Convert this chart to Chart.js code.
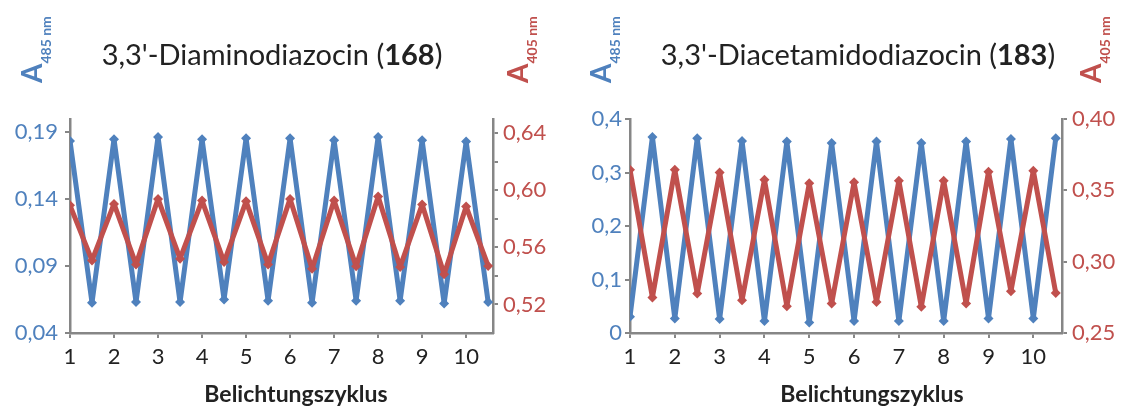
<!DOCTYPE html>
<html>
<head>
<meta charset="utf-8">
<script src="https://cdn.jsdelivr.net/npm/chart.js@4.4.1/dist/chart.umd.min.js"></script>
<style>
  body { margin: 0; background: #fff; }
  #wrap { position: relative; width: 1123px; height: 408px; overflow: hidden; font-family: Lato, sans-serif; }
  canvas { position: absolute; top: 0; }
  .title { position: absolute; top: 39px; width: 500px; text-align: center; font-size: 29px; line-height: 1; color: #222; white-space: nowrap; }
  .alab { position: absolute; top: 83px; font-size: 28px; font-weight: bold; line-height: 1; white-space: nowrap; transform: rotate(-90deg); transform-origin: 0 0; }
  .alab sub { font-size: 14px; vertical-align: baseline; position: relative; top: 9px; }
  .xlab { position: absolute; top: 382px; width: 300px; text-align: center; font-size: 23px; font-weight: bold; line-height: 1; color: #222; white-space: nowrap; }
</style>
</head>
<body>
<div id="wrap">
  <canvas id="chart168" width="561" height="408" style="left:0"></canvas>
  <canvas id="chart183" width="562" height="408" style="left:561px"></canvas>

  <div class="title" style="left:22px">3,3'-Diaminodiazocin (<b>168</b>)</div>
  <div class="title" style="left:608px">3,3'-Diacetamidodiazocin (<b>183</b>)</div>

  <div class="alab" style="left:17px;color:#4F81BD">A<sub>485 nm</sub></div>
  <div class="alab" style="left:503px;color:#C0504D">A<sub>405 nm</sub></div>
  <div class="alab" style="left:586px;color:#4F81BD">A<sub>485 nm</sub></div>
  <div class="alab" style="left:1076px;color:#C0504D">A<sub>405 nm</sub></div>

  <div class="xlab" style="left:146px">Belichtungszyklus</div>
  <div class="xlab" style="left:722px">Belichtungszyklus</div>
</div>
<script>
const cycles = [1, 1.5, 2, 2.5, 3, 3.5, 4, 4.5, 5, 5.5, 6, 6.5, 7, 7.5, 8, 8.5, 9, 9.5, 10, 10.5];
const cycleTicks = [1, 2, 3, 4, 5, 6, 7, 8, 9, 10];

// 168: 3,3'-Diaminodiazocin
const a485_168 = [0.1836, 0.0626, 0.1849, 0.0631, 0.1866, 0.0631, 0.1849, 0.0651, 0.1856, 0.0641,
                  0.1856, 0.0626, 0.1841, 0.0641, 0.1866, 0.0641, 0.1841, 0.0621, 0.1831, 0.0631];
const a405_168 = [0.5895, 0.5509, 0.5905, 0.5481, 0.5940, 0.5521, 0.5928, 0.5497, 0.5923, 0.5481,
                  0.5940, 0.5451, 0.5928, 0.5467, 0.5956, 0.5463, 0.5900, 0.5412, 0.5886, 0.5470];
const leftTicks168 = [0.04, 0.09, 0.14, 0.19];
const leftLabels168 = ['0,04', '0,09', '0,14', '0,19'];
const rightTicks168 = [0.52, 0.54, 0.56, 0.58, 0.60, 0.62, 0.64];
const rightLabels168 = ['0,52', '', '0,56', '', '0,60', '', '0,64'];

// 183: 3,3'-Diacetamidodiazocin
const a485_183 = [0.0304, 0.3665, 0.0273, 0.3640, 0.0260, 0.3590, 0.0223, 0.3580, 0.0198, 0.3550,
                  0.0223, 0.3580, 0.0223, 0.3550, 0.0223, 0.3580, 0.0273, 0.3628, 0.0273, 0.3640];
const a405_183 = [0.3644, 0.2749, 0.3644, 0.2777, 0.3625, 0.2730, 0.3574, 0.2688, 0.3549, 0.2707,
                  0.3556, 0.2718, 0.3567, 0.2684, 0.3567, 0.2707, 0.3630, 0.2793, 0.3637, 0.2781];
const leftTicks183 = [0, 0.1, 0.2, 0.3, 0.4];
const leftLabels183 = ['0', '0,1', '0,2', '0,3', '0,4'];
const rightTicks183 = [0.25, 0.30, 0.35, 0.40];
const rightLabels183 = ['0,25', '0,30', '0,35', '0,40'];

const BLUE = '#4F81BD';
const RED = '#C0504D';
const AXIS = '#868686';

Chart.defaults.font.family = 'Lato, sans-serif';

function toPoints(ys) {
  return cycles.map((x, i) => ({ x: x, y: ys[i] }));
}

function series(ys, color, axisId, order) {
  return {
    data: toPoints(ys),
    yAxisID: axisId,
    borderColor: color,
    backgroundColor: color,
    borderWidth: 5,
    borderJoinStyle: 'round',
    pointStyle: 'rectRot',
    pointRadius: 5,
    pointBorderWidth: 0,
    order: order,
    tension: 0,
  };
}

function yAxis(pos, min, max, ticks, labels, color, width, pad) {
  return {
    type: 'linear',
    position: pos,
    min: min,
    max: max,
    afterBuildTicks: scale => { scale.ticks = ticks.map(v => ({ value: v })); },
    afterFit: scale => { scale.width = width; },
    border: { display: true, color: AXIS, width: 2.5 },
    grid: { drawOnChartArea: false, drawTicks: true, tickLength: 5, color: AXIS, lineWidth: 2 },
    ticks: {
      color: color,
      padding: pad,
      font: { size: 22 },
      callback: (v, i) => labels[i],
    },
  };
}

function makeChart(id, blue, red, l) {
  const ctx = document.getElementById(id).getContext('2d');
  return new Chart(ctx, {
    type: 'line',
    data: {
      datasets: [
        series(red, RED, 'yR', 0),
        series(blue, BLUE, 'yL', 1),
      ]
    },
    options: {
      responsive: false,
      animation: false,
      devicePixelRatio: 1,
      layout: { padding: { top: 119, left: 0, right: 0, bottom: 0 } },
      plugins: { legend: { display: false }, tooltip: { enabled: false } },
      scales: {
        x: {
          type: 'linear',
          min: 1,
          max: l.xMax,
          afterBuildTicks: scale => { scale.ticks = cycleTicks.map(v => ({ value: v })); },
          afterFit: scale => { scale.height = 75; },
          border: { display: true, color: AXIS, width: 2.5 },
          grid: { drawOnChartArea: false, drawTicks: true, tickLength: 5, color: AXIS, lineWidth: 2 },
          ticks: { color: '#222', padding: 6, maxRotation: 0, font: { size: 22 }, callback: v => String(v) },
        },
        yL: yAxis('left', l.lMin, l.lMax, l.lTicks, l.lLabels, BLUE, l.lWidth, l.lPad),
        yR: yAxis('right', l.rMin, l.rMax, l.rTicks, l.rLabels, RED, l.rWidth, 5),
      }
    }
  });
}

makeChart('chart168', a485_168, a405_168, {
  xMax: 10.61, lWidth: 70, rWidth: 68, lPad: 7,
  lMin: 0.04, lMax: 0.20, lTicks: leftTicks168, lLabels: leftLabels168,
  rMin: 0.50, rMax: 0.65, rTicks: rightTicks168, rLabels: rightLabels168,
});
makeChart('chart183', a485_183, a405_183, {
  xMax: 10.64, lWidth: 69, rWidth: 61, lPad: 3,
  lMin: 0, lMax: 0.4, lTicks: leftTicks183, lLabels: leftLabels183,
  rMin: 0.25, rMax: 0.40, rTicks: rightTicks183, rLabels: rightLabels183,
});
</script>
</body>
</html>
